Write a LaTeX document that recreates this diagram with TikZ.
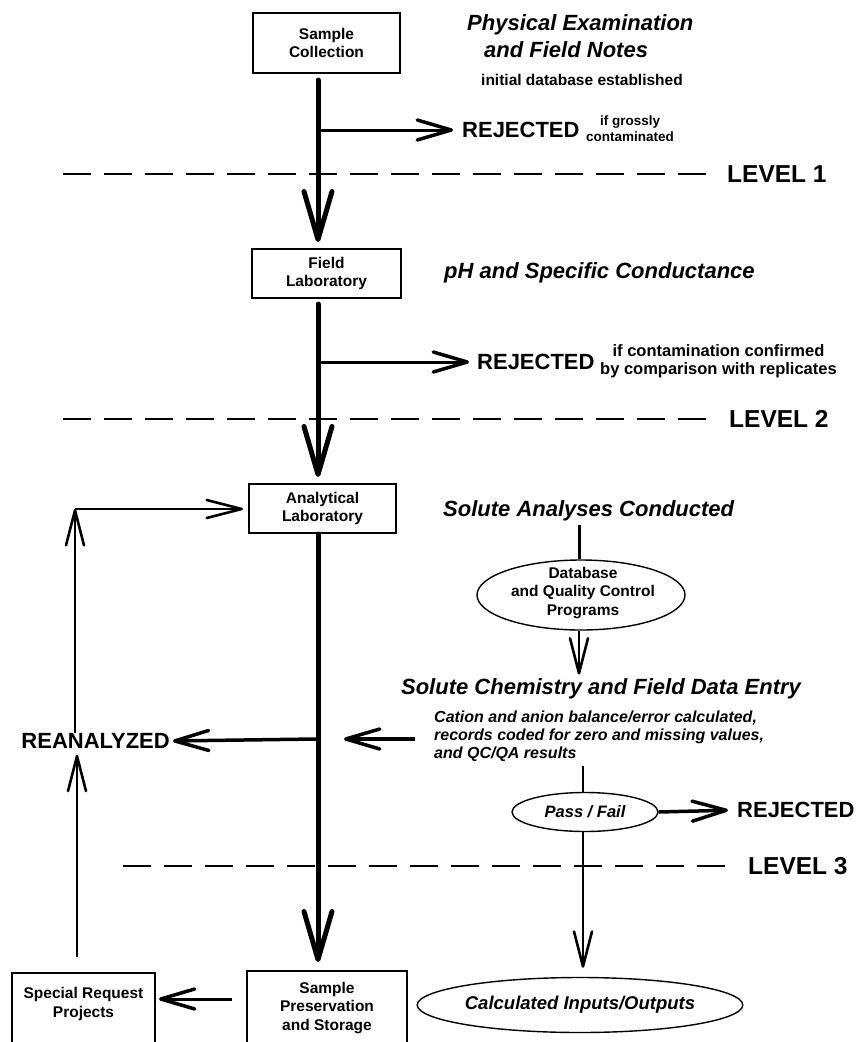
\documentclass[tikz,border=0pt]{standalone}
\usepackage{fontspec}
\setmainfont{Liberation Sans}
\usetikzlibrary{arrows.meta,shapes.geometric,calc}
\newcommand\boxfnt{\bfseries\fontsize{15.5}{18.5}\selectfont}
\newcommand\ttlfnt{\bfseries\itshape\fontsize{22}{26}\selectfont}
\newcommand\rejfnt{\bfseries\fontsize{22}{24}\selectfont}
\newcommand\levfnt{\bfseries\fontsize{24.5}{26}\selectfont}
\newcommand\notefnt{\bfseries\fontsize{16.5}{18.5}\selectfont}
\newcommand\smlfnt{\bfseries\fontsize{13.5}{16}\selectfont}
\newcommand\calcfnt{\bfseries\itshape\fontsize{16}{18}\selectfont}
\tikzset{
  box/.style={draw,line width=2pt,align=center,font=\boxfnt,inner sep=0pt},
  txt/.style={inner sep=0pt,align=center},
  ell/.style={draw,ellipse,line width=1.4pt,inner sep=0pt,align=center},
  trunk/.style={line width=5pt,-{Straight Barb[length=48pt,width=28pt,line width=5pt,round]}},
  medarrow/.style={line width=3.5pt,-{Straight Barb[length=34pt,width=20pt,line width=3.5pt,round]}},
  smallarrow/.style={line width=2.6pt,-{Straight Barb[length=35pt,width=18pt,line width=2.6pt,round]}},
  plainline/.style={line width=2.6pt},
  levelline/.style={line width=2pt,dash pattern=on 28pt off 13pt},
}
\begin{document}
\begin{tikzpicture}[x=1pt,y=-1pt]
\useasboundingbox (0,0) rectangle (857,1042);
\fill[white] (0,0) rectangle (857,1042);
% boxes
\node[box,minimum width=147pt,minimum height=60pt] (sc) at (326.5,43) {Sample\\Collection};
\node[box,minimum width=149pt,minimum height=49pt] (fl) at (326.5,273.5) {Field\\Laboratory};
\node[box,minimum width=147pt,minimum height=49pt] (al) at (322.5,508.5) {Analytical\\Laboratory};
\node[box,minimum width=160pt,minimum height=80pt,anchor=north] (sp) at (327,970) {};
\node[txt,font=\boxfnt] (spt) at (327,1008) {Sample\\Preservation\\and Storage};
\node[box,minimum width=143pt,minimum height=80pt,anchor=north] (sr) at (83.5,972) {};
\node[txt,font=\boxfnt] (srt) at (83.5,1004) {Special Request\\Projects};
% titles
\node[txt,font=\ttlfnt,anchor=west] (pe) at (467,25) {Physical Examination};
\node[txt,font=\ttlfnt,anchor=west] (fn) at (484,50) {and Field Notes};
\node[txt,font=\boxfnt] (idb) at (582,80) {initial database established};
\node[txt,font=\ttlfnt,anchor=west] (ph) at (444,273) {pH and Specific Conductance};
\node[txt,font=\ttlfnt,anchor=west] (sac) at (443,511) {Solute Analyses Conducted};
\node[txt,font=\ttlfnt] (chem) at (601,689) {Solute Chemistry and Field Data Entry};
\node[txt,font=\calcfnt,anchor=west,align=left] (cat) at (434,736) {Cation and anion balance/error calculated,\\records coded for zero and missing values,\\and QC/QA results};
% ellipses
\node[ell,minimum width=208pt,minimum height=70pt] (db) at (581,595) {};
\node[txt,font=\boxfnt] (dbt) at (583,593) {Database\\and Quality Control\\Programs};
\node[ell,minimum width=146pt,minimum height=39pt,font=\bfseries\itshape\fontsize{16.5}{18}\selectfont] (pf) at (585,812) {Pass / Fail};
\node[ell,minimum width=320pt,minimum height=55pt,font=\bfseries\itshape\fontsize{18.5}{20}\selectfont] (calc) at (580,1005) {Calculated Inputs/Outputs};
% rejected / reanalyzed / levels
\node[txt,font=\rejfnt,anchor=west] (rej1) at (462,130) {REJECTED};
\node[txt,font=\smlfnt,anchor=west] (n1) at (586,129) {if grossly\\contaminated};
\node[txt,font=\rejfnt,anchor=west] (rej2) at (477,362) {REJECTED};
\node[txt,font=\notefnt,anchor=west] (n2) at (600,361) {if contamination confirmed\\by comparison with replicates};
\node[txt,font=\rejfnt,anchor=west] (rej3) at (737,810) {REJECTED};
\node[txt,font=\rejfnt,anchor=east] (rean) at (170,741) {REANALYZED};
\node[txt,font=\levfnt,anchor=west] (lev1) at (727,174) {LEVEL 1};
\node[txt,font=\levfnt,anchor=west] (lev2) at (729,419) {LEVEL 2};
\node[txt,font=\levfnt,anchor=west] (lev3) at (748,866) {LEVEL 3};
% coordinates
\coordinate (tx) at (318,0);
\coordinate (b1) at (318,130);
\coordinate (b2) at (318,362);
\coordinate (ra) at (316,739);
\coordinate (lc) at (75,509);
\coordinate (lc2) at (77,957);
\coordinate (na) at (415,739);
\coordinate (nb) at (344,739);
\coordinate (sa) at (232,999);
\coordinate (d1) at (579,525);
\coordinate (pa) at (583,766);
\coordinate (l1) at (63,174);
\coordinate (l2) at (63,419);
\coordinate (l3) at (123,866);
% level lines
\draw[levelline] (l1) -- ($(lev1.west)+(-16,0)$);
\draw[levelline] (l2) -- ($(lev2.west)+(-16,0)$);
\draw[levelline] (l3) -- ($(lev3.west)+(-11,0)$);
% trunk
\draw[trunk,line cap=round,shorten >=6pt] ($(sc.south -| tx)+(0,6)$) -- (fl.north -| tx);
\draw[trunk,line cap=round,shorten >=6pt] ($(fl.south -| tx)+(0,5)$) -- (al.north -| tx);
\draw[trunk,line cap=round,shorten >=8pt] (al.south -| tx) -- (sp.north -| tx);
% branches
\draw[medarrow,line width=3pt,shorten >=9pt] (b1) -- (rej1.west);
\draw[medarrow,line width=3pt,shorten >=8pt] (b2) -- (rej2.west);
\draw[medarrow,shorten >=3pt] (ra) -- (rean.east);
\draw[medarrow] (na) -- (nb);
\draw[medarrow,line width=3pt,shorten >=3pt] (sa) -- (sr.east |- sa);
% loop
\draw[smallarrow] (rean.north -| lc) -- (lc);
\draw[smallarrow,shorten >=5pt] (lc) -- (al.west |- lc);
\draw[smallarrow,shorten >=6pt] (lc2) -- (rean.south -| lc2);
% right column
\draw[plainline,line width=3pt] (d1) -- (db.north -| d1);
\draw[smallarrow,shorten >=4pt] (db.south -| d1) -- (chem.north -| d1);
\draw[plainline] (pa) -- (pf.north -| pa);
\draw[medarrow,shorten >=9pt] (pf.east) -- (rej3.west);
\draw[smallarrow,shorten >=9pt] (pf.south -| pa) -- (calc.north -| pa);
\end{tikzpicture}
\end{document}
